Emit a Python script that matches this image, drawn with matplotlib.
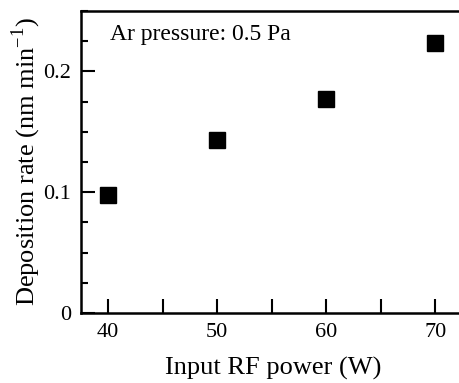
import matplotlib
matplotlib.use("Agg")
import matplotlib.pyplot as plt
from matplotlib.ticker import MultipleLocator, FixedLocator

power = [40, 50, 60, 70]
rate = [0.098, 0.1435, 0.177, 0.2235]
x_ticklabels = ["40", "50", "60", "70"]
y_ticklabels = ["0", "0.1", "0.2"]

plt.rcParams['font.family'] = ['Liberation Serif', 'DejaVu Serif']
plt.rcParams['mathtext.fontset'] = 'custom'
plt.rcParams['mathtext.rm'] = 'Liberation Serif'

fig = plt.figure(figsize=(4.6, 3.83), dpi=100)
ax = fig.add_axes([81/460, 1-313/383, (460-81)/460 + 0.01, (313-11)/383])

ax.plot(power, rate, linestyle='none', marker='s', markersize=11, color='black')

ax.set_xlim(37.5, 72.7)
ax.set_ylim(0, 0.25)

ax.xaxis.set_major_locator(FixedLocator([40, 50, 60, 70]))
ax.set_xticklabels(x_ticklabels)
ax.xaxis.set_minor_locator(FixedLocator([45, 55, 65]))
ax.yaxis.set_major_locator(FixedLocator([0, 0.1, 0.2]))
ax.set_yticklabels(y_ticklabels)
ax.yaxis.set_minor_locator(MultipleLocator(0.025))

ax.tick_params(axis='both', which='both', direction='in', width=1.5, labelsize=16)
ax.tick_params(axis='x', which='both', length=10, pad=7)
ax.tick_params(axis='y', which='major', length=10, pad=7)
ax.tick_params(axis='y', which='minor', length=5)
ax.tick_params(top=False, right=False)

for s in ['left', 'bottom', 'top']:
    ax.spines[s].set_linewidth(1.8)
ax.spines['right'].set_visible(False)

ax.set_xlabel('Input RF power (W)', fontsize=19, labelpad=11)
ax.set_ylabel('Deposition rate (nm min$^{\\mathregular{-1}}$)', fontsize=19, labelpad=0)

ax.text(0.075, 0.905, 'Ar pressure: 0.5 Pa', transform=ax.transAxes, fontsize=17,
        ha='left', va='baseline')

fig.savefig('out.png', dpi=100)
